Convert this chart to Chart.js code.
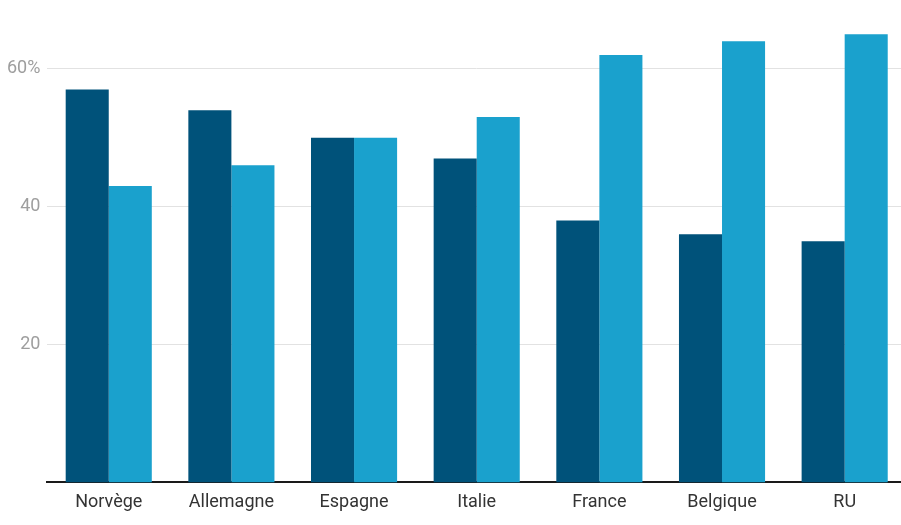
<!DOCTYPE html>
<html>
<head>
<meta charset="utf-8">
<script src="https://cdn.jsdelivr.net/npm/chart.js@4/dist/chart.umd.min.js"></script>
<style>
  html, body { margin: 0; padding: 0; background: #fff; overflow: hidden; }
  #wrap { width: 906px; height: 525px; position: relative; }
</style>
</head>
<body>
<div id="wrap"><canvas id="chart"></canvas></div>
<script>
// Categories and series (percent)
const countries = ['Norvège', 'Allemagne', 'Espagne', 'Italie', 'France', 'Belgique', 'RU'];
const seriesDark = [57, 54, 50, 47, 38, 36, 35];
const seriesLight = [43, 46, 50, 53, 62, 64, 65];
const yTicks = [20, 40, 60];

const ctx = document.getElementById('chart').getContext('2d');
new Chart(ctx, {
    type: 'bar',
    data: {
        labels: countries,
        datasets: [
            { data: seriesDark, backgroundColor: '#00527a' },
            { data: seriesLight, backgroundColor: '#1aa1cd' }
        ]
    },
    options: {
        responsive: true,
        maintainAspectRatio: false,
        animation: false,
        datasets: { bar: { categoryPercentage: 0.702, barPercentage: 1 } },
        layout: { padding: { top: 0, right: 0, bottom: 11, left: 0 } },
        plugins: { legend: { display: false }, tooltip: { enabled: false } },
        scales: {
            x: {
                grid: { display: false },
                border: { display: true, color: '#1a1a1a', width: 2 },
                ticks: {
                    color: '#333',
                    padding: 1,
                    font: { family: 'Roboto', size: 18 }
                }
            },
            y: {
                min: 0,
                max: 67.4,
                afterBuildTicks: function(axis) {
                    axis.ticks = yTicks.map(v => ({ value: v }));
                },
                border: { display: false },
                grid: { color: '#e2e2e2', lineWidth: 1, drawTicks: false },
                ticks: {
                    color: '#9e9e9e',
                    padding: 7,
                    font: { family: 'Roboto', size: 18 },
                    callback: function(value) {
                        return value === 60 ? value + '%' : value;
                    }
                }
            }
        }
    }
});
</script>
</body>
</html>
